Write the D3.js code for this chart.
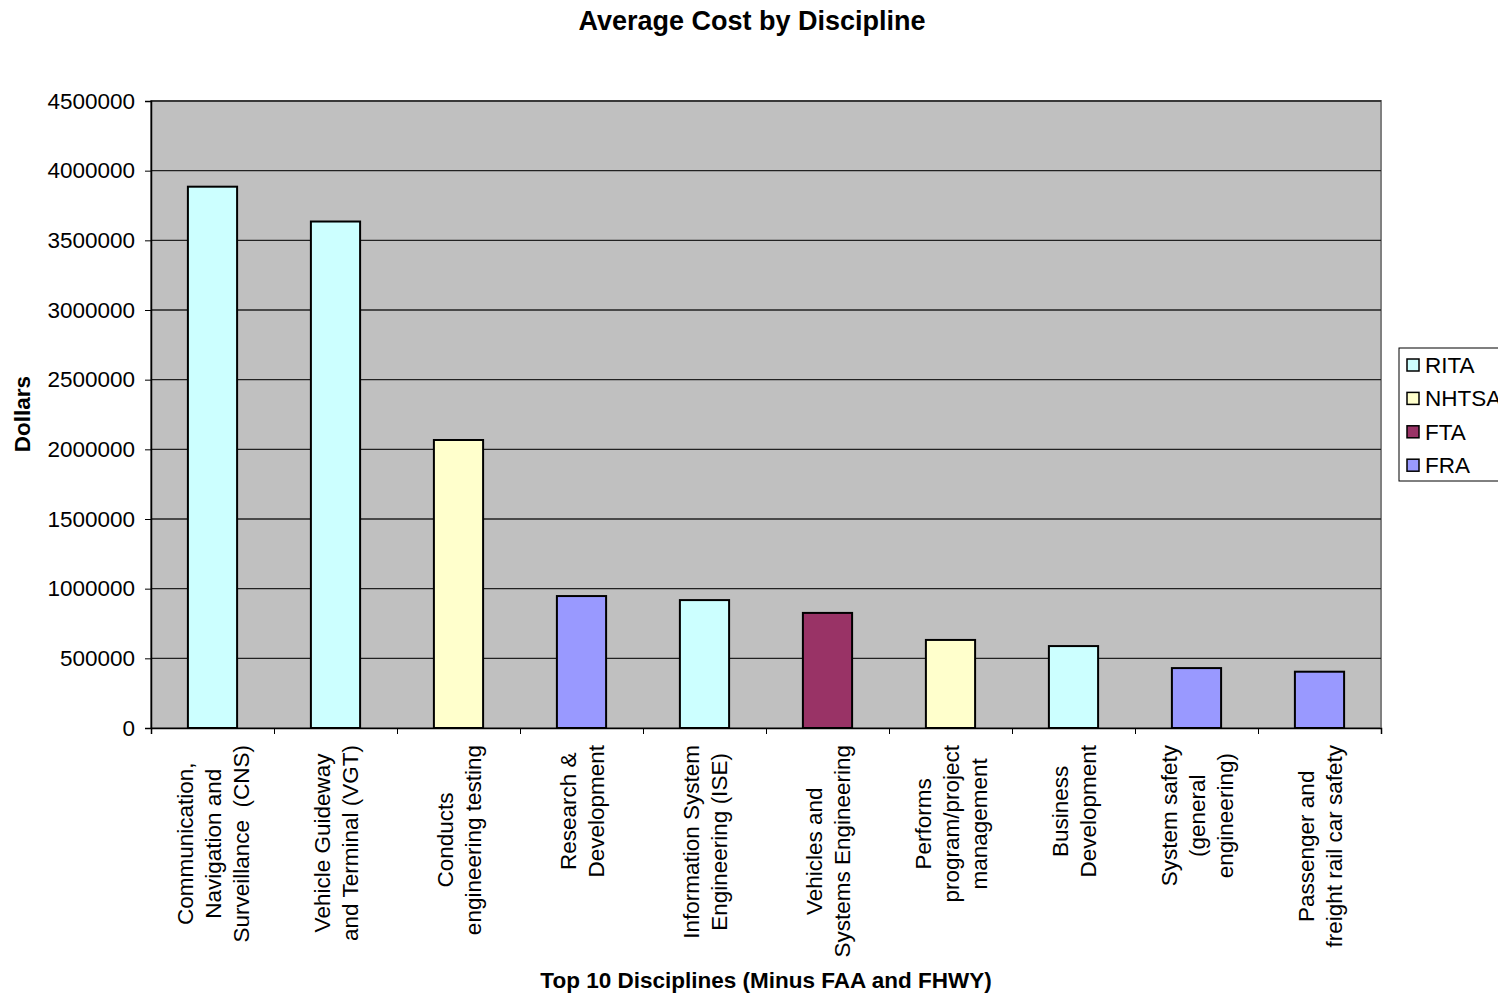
<!DOCTYPE html>
<html lang="en">
<head>
    <meta charset="UTF-8">
    <title>Average Cost by Discipline</title>
    <style>
        body {
            margin: 0;
            background: #fff;
            font-family: 'Liberation Sans', Arial, sans-serif;
        }
        svg text {
            white-space: pre;
        }
        .axis text {
            font-size: 22.5px;
            fill: #000;
        }
        .axis path, .axis line {
            stroke: #000;
        }
    </style>
</head>
<body>
    <div id="chart"></div>
    <script src="https://d3js.org/d3.v7.min.js"></script>
    <script>
        const width = 1498;
        const height = 995;

        // data
        const categories = [
            ["Communication,", "Navigation and", "Surveillance  (CNS)"],
            ["Vehicle Guideway", "and Terminal (VGT)"],
            ["Conducts", "engineering testing"],
            ["Research &", "Development"],
            ["Information System", "Engineering (ISE)"],
            ["Vehicles and", "Systems Engineering"],
            ["Performs", "program/project", "management"],
            ["Business", "Development"],
            ["System safety", "(general", "engineering)"],
            ["Passenger and", "freight rail car safety"]
        ];
        const values = [3885000, 3635000, 2067000, 947000, 918000, 826000, 632000, 588000, 430000, 404000];
        const agencies = ["RITA", "RITA", "NHTSA", "FRA", "RITA", "FTA", "NHTSA", "RITA", "FRA", "FRA"];
        const series = ["RITA", "NHTSA", "FTA", "FRA"];
        const seriesColors = ["#ccffff", "#ffffcc", "#993366", "#9999ff"];
        const yTicks = [0, 500000, 1000000, 1500000, 2000000, 2500000, 3000000, 3500000, 4000000, 4500000];

        const plot = { left: 151, right: 1381, top: 101, bottom: 728 };

        const svg = d3.select("#chart")
            .append("svg")
            .attr("width", width)
            .attr("height", height);

        const x = d3.scaleBand()
            .domain(d3.range(categories.length))
            .range([plot.left, plot.right])
            .paddingInner(0.6)
            .paddingOuter(0.3);

        const y = d3.scaleLinear()
            .domain([0, 4500000])
            .range([plot.bottom, plot.top]);

        const color = d3.scaleOrdinal()
            .domain(series)
            .range(seriesColors);

        // plot background
        svg.append("rect")
            .attr("x", plot.left)
            .attr("y", plot.top)
            .attr("width", plot.right - plot.left)
            .attr("height", plot.bottom - plot.top)
            .attr("fill", "#c0c0c0")
            .attr("stroke", "#808080")
            .attr("stroke-width", 2);

        // gridlines
        svg.append("g")
            .selectAll("line")
            .data(yTicks.slice(1))
            .join("line")
            .attr("x1", plot.left)
            .attr("x2", plot.right)
            .attr("y1", d => y(d))
            .attr("y2", d => y(d))
            .attr("stroke", "#222")
            .attr("stroke-width", 1.3);

        // bars
        svg.append("g")
            .selectAll("rect")
            .data(values)
            .join("rect")
            .attr("x", (d, i) => x(i))
            .attr("y", d => y(d))
            .attr("width", x.bandwidth())
            .attr("height", d => y(0) - y(d))
            .attr("fill", (d, i) => color(agencies[i]))
            .attr("stroke", "#000")
            .attr("stroke-width", 2);

        // y axis
        const yAxis = svg.append("g")
            .attr("class", "axis")
            .attr("transform", `translate(${plot.left},0)`)
            .call(d3.axisLeft(y).tickValues(yTicks).tickFormat(d3.format("d")).tickSize(6).tickPadding(10));
        yAxis.select(".domain").attr("stroke-width", 1.5);

        // x axis with ticks at category boundaries
        const xEdge = d3.scaleLinear().domain([0, categories.length]).range([plot.left, plot.right]);
        const xAxis = svg.append("g")
            .attr("class", "axis")
            .attr("transform", `translate(0,${plot.bottom})`)
            .call(d3.axisBottom(xEdge).ticks(categories.length).tickFormat("").tickSize(6).tickSizeOuter(6));
        xAxis.select(".domain").attr("stroke-width", 1.5);

        // category labels, rotated, lines centred on the longest line
        const labelTop = 745;
        const lineGap = 28;
        categories.forEach((lines, i) => {
            const cx = x(i) + x.bandwidth() / 2;
            const g = svg.append("g");
            const texts = g.selectAll("text")
                .data(lines)
                .join("text")
                .attr("font-size", 22.5)
                .attr("text-anchor", "middle")
                .text(d => d);
            const maxW = d3.max(texts.nodes(), n => n.getComputedTextLength());
            const cy = labelTop + maxW / 2;
            const n = lines.length;
            texts.attr("transform", (d, j) => {
                const off = (j - (n - 1) / 2) * lineGap + 8;
                return `translate(${cx + off},${cy}) rotate(-90)`;
            });
        });

        // title
        svg.append("text")
            .attr("x", 752)
            .attr("y", 30)
            .attr("text-anchor", "middle")
            .attr("font-size", 27)
            .attr("font-weight", "bold")
            .text("Average Cost by Discipline");

        // axis titles
        svg.append("text")
            .attr("transform", "translate(30,414) rotate(-90)")
            .attr("text-anchor", "middle")
            .attr("font-size", 22.5)
            .attr("font-weight", "bold")
            .text("Dollars");

        svg.append("text")
            .attr("x", 766)
            .attr("y", 988)
            .attr("text-anchor", "middle")
            .attr("font-size", 22.5)
            .attr("font-weight", "bold")
            .text("Top 10 Disciplines (Minus FAA and FHWY)");

        // legend
        const legend = svg.append("g")
            .attr("transform", "translate(1399,348)");

        legend.append("rect")
            .attr("width", 120)
            .attr("height", 133)
            .attr("fill", "#fff")
            .attr("stroke", "#000")
            .attr("stroke-width", 1);

        const items = legend.selectAll("g.item")
            .data(series)
            .join("g")
            .attr("class", "item")
            .attr("transform", (d, i) => `translate(0,${17 + i * 33.4})`);

        items.append("rect")
            .attr("x", 8)
            .attr("y", -6)
            .attr("width", 12)
            .attr("height", 12)
            .attr("fill", d => color(d))
            .attr("stroke", "#000")
            .attr("stroke-width", 1.5);

        items.append("text")
            .attr("x", 26)
            .attr("y", 8)
            .attr("font-size", 22.5)
            .text(d => d);
    </script>
</body>
</html>
